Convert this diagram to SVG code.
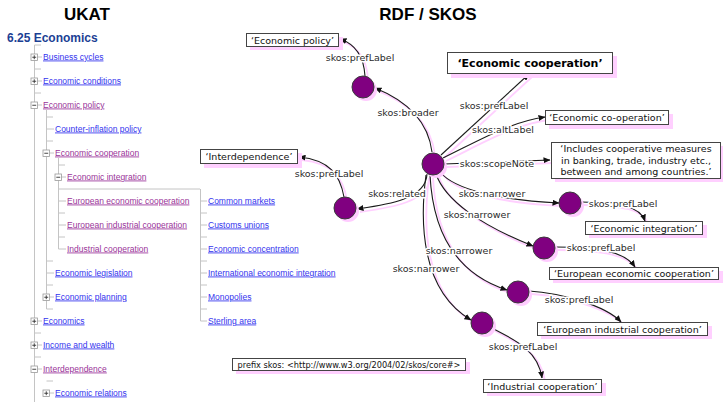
<svg xmlns="http://www.w3.org/2000/svg" width="723" height="402" viewBox="0 0 723 402">
<style>
.title{font-family:"Liberation Sans",Arial,sans-serif;font-weight:bold;font-size:17px;fill:#000}
.head{font-family:"Liberation Sans",Arial,sans-serif;font-weight:bold;font-size:12px;fill:#1c3f94}
.lk{font-family:"Liberation Sans",Arial,sans-serif;font-size:8.5px;text-decoration:underline}
.b{fill:#3333ee}
.v{fill:#993399}
.tl{stroke:#c4c4c4;stroke-width:1;fill:none}
.bx{fill:#fff;stroke:#999;stroke-width:0.8}
.sg{stroke:#333;stroke-width:0.9}
.node{fill:#800080;stroke:#3a3a3a;stroke-width:1}
.nsh{fill:#ffccff}
.edge{fill:none;stroke:#1a1a1a;stroke-width:1.1}
.esh{fill:none;stroke:#ffd0ff;stroke-width:1.8}
.el{font-family:"DejaVu Sans",Verdana,sans-serif;font-size:9.5px;fill:#2a2a2a;stroke:#fff;stroke-width:3;paint-order:stroke;stroke-linejoin:round}
.lit{fill:#fff;stroke:#444;stroke-width:1}
.lsh{fill:#ffd0ff}
.lt{font-family:"DejaVu Sans",Verdana,sans-serif;font-size:9.5px;fill:#111}
.ltb{font-family:"DejaVu Sans",Verdana,sans-serif;font-size:11px;font-weight:bold;fill:#000}
.pt{font-family:"DejaVu Sans",Verdana,sans-serif;font-size:8.2px;fill:#111}
</style>
<defs>
<marker id="ar" markerWidth="7" markerHeight="6" refX="6.5" refY="3" orient="auto" markerUnits="userSpaceOnUse">
<path d="M0,0 L7,3 L0,6 z" fill="#111"/>
</marker>
</defs>
<rect width="723" height="402" fill="#fff"/>

<text class="title" x="87" y="20" text-anchor="middle">UKAT</text>
<text class="title" x="428" y="20" text-anchor="middle">RDF / SKOS</text>
<text class="head" x="7" y="42">6.25 Economics</text>

<g id="tree-lines">
<path class="tl" d="M34.5,45 V402 M46.5,110 V309 M58.5,158 V249 M200.5,189 V321 M58.5,189 H200"/>
<path class="tl" d="M34.5,45 H41 M34.5,69 H41 M34.5,93 H41 M34.5,333 H41 M34.5,357 H41 M46.5,381 H53
M37.5,57 H42 M37.5,81 H42 M37.5,105 H42 M37.5,321 H42 M37.5,345 H42 M37.5,369 H42
M46.5,117 H53 M46.5,141 H53 M46.5,261 H53 M46.5,285 H53 M46.5,309 H53
M46.5,129 H54 M46.5,273 H54 M49.5,153 H54 M49.5,297 H54 M49.5,393 H54
M58.5,165 H65 M58.5,213 H65 M58.5,237 H65 M61.5,177 H66 M58.5,201 H66 M58.5,225 H66 M58.5,249 H66
M200.5,213 H207 M200.5,237 H207 M200.5,261 H207 M200.5,285 H207 M200.5,309 H207
M200.5,201 H207 M200.5,225 H207 M200.5,249 H207 M200.5,273 H207 M200.5,297 H207 M200.5,321 H207"/>
</g>

<g id="tree-boxes">
<rect class="bx" x="31" y="54" width="6.5" height="6.5"/><path class="sg" d="M32.3,57.25 H36.2 M34.25,55.3 V59.2"/>
<rect class="bx" x="31" y="78" width="6.5" height="6.5"/><path class="sg" d="M32.3,81.25 H36.2 M34.25,79.3 V83.2"/>
<rect class="bx" x="31" y="102" width="6.5" height="6.5"/><path class="sg" d="M32.3,105.25 H36.2"/>
<rect class="bx" x="43" y="150" width="6.5" height="6.5"/><path class="sg" d="M44.3,153.25 H48.2"/>
<rect class="bx" x="55" y="174" width="6.5" height="6.5"/><path class="sg" d="M56.3,177.25 H60.2"/>
<rect class="bx" x="43" y="294" width="6.5" height="6.5"/><path class="sg" d="M44.3,297.25 H48.2 M46.25,295.3 V299.2"/>
<rect class="bx" x="31" y="318" width="6.5" height="6.5"/><path class="sg" d="M32.3,321.25 H36.2 M34.25,319.3 V323.2"/>
<rect class="bx" x="31" y="342" width="6.5" height="6.5"/><path class="sg" d="M32.3,345.25 H36.2 M34.25,343.3 V347.2"/>
<rect class="bx" x="31" y="366" width="6.5" height="6.5"/><path class="sg" d="M32.3,369.25 H36.2"/>
<rect class="bx" x="43" y="390" width="6.5" height="6.5"/><path class="sg" d="M44.3,393.25 H48.2 M46.25,391.3 V395.2"/>
</g>

<g id="tree-items">
<text class="lk b" x="43" y="59.5">Business cycles</text>
<text class="lk b" x="43" y="83.5">Economic conditions</text>
<text class="lk v" x="43" y="107.5">Economic policy</text>
<text class="lk b" x="55" y="131.5">Counter-inflation policy</text>
<text class="lk v" x="55" y="155.5">Economic cooperation</text>
<text class="lk v" x="67" y="179.5">Economic integration</text>
<text class="lk v" x="67" y="203.5">European economic cooperation</text>
<text class="lk v" x="67" y="227.5">European industrial cooperation</text>
<text class="lk v" x="67" y="251.5">Industrial cooperation</text>
<text class="lk b" x="55" y="275.5">Economic legislation</text>
<text class="lk b" x="55" y="299.5">Economic planning</text>
<text class="lk b" x="43" y="323.5">Economics</text>
<text class="lk b" x="43" y="347.5">Income and wealth</text>
<text class="lk v" x="43" y="371.5">Interdependence</text>
<text class="lk b" x="55" y="395.5">Economic relations</text>
<text class="lk b" x="208" y="203.5">Common markets</text>
<text class="lk b" x="208" y="227.5">Customs unions</text>
<text class="lk b" x="208" y="251.5">Economic concentration</text>
<text class="lk b" x="208" y="275.5">International economic integration</text>
<text class="lk b" x="208" y="299.5">Monopolies</text>
<text class="lk b" x="208" y="323.5">Sterling area</text>
</g>

<g id="connectors">
<g transform="translate(3,3)">
<path class="esh" d="M365,76 C364,60 358,45 340,39"/>
<path class="esh" d="M432,152 C428,120 405,100 375,88"/>
<path class="esh" d="M441,155 L529,74"/>
<path class="esh" d="M443,158 C480,140 510,122 545,117"/>
<path class="esh" d="M444,164 L550,160"/>
<path class="esh" d="M427,174 C426,200 385,205 357,209"/>
<path class="esh" d="M344,197 C340,175 330,160 299,157"/>
<path class="esh" d="M440,172 C455,190 500,200 559,203"/>
<path class="esh" d="M436,174 C445,200 480,225 533,246"/>
<path class="esh" d="M430,175 C432,215 445,270 507,290"/>
<path class="esh" d="M426,175 C420,220 420,290 471,320"/>
<path class="esh" d="M581,202 C620,203 640,206 645,221"/>
<path class="esh" d="M555,247 C600,247 625,252 635,267"/>
<path class="esh" d="M529,291 C560,293 605,305 621,322"/>
<path class="esh" d="M492,328 C515,340 538,350 542,378"/>
</g>
<path class="edge" marker-end="url(#ar)" d="M365,76 C364,60 358,45 340,39"/>
<path class="edge" marker-end="url(#ar)" d="M432,152 C428,120 405,100 375,88"/>
<path class="edge" marker-end="url(#ar)" d="M441,155 L529,74"/>
<path class="edge" marker-end="url(#ar)" d="M443,158 C480,140 510,122 545,117"/>
<path class="edge" marker-end="url(#ar)" d="M444,164 L550,160"/>
<path class="edge" marker-end="url(#ar)" d="M427,174 C426,200 385,205 357,209"/>
<path class="edge" marker-end="url(#ar)" d="M344,197 C340,175 330,160 299,157"/>
<path class="edge" marker-end="url(#ar)" d="M440,172 C455,190 500,200 559,203"/>
<path class="edge" marker-end="url(#ar)" d="M436,174 C445,200 480,225 533,246"/>
<path class="edge" marker-end="url(#ar)" d="M430,175 C432,215 445,270 507,290"/>
<path class="edge" marker-end="url(#ar)" d="M426,175 C420,220 420,290 471,320"/>
<path class="edge" marker-end="url(#ar)" d="M581,202 C620,203 640,206 645,221"/>
<path class="edge" marker-end="url(#ar)" d="M555,247 C600,247 625,252 635,267"/>
<path class="edge" marker-end="url(#ar)" d="M529,291 C560,293 605,305 621,322"/>
<path class="edge" marker-end="url(#ar)" d="M492,328 C515,340 538,350 542,378"/>
<text class="el" x="360" y="61" text-anchor="middle">skos:prefLabel</text>
<text class="el" x="408" y="116" text-anchor="middle">skos:broader</text>
<text class="el" x="494" y="109" text-anchor="middle">skos:prefLabel</text>
<text class="el" x="503" y="133" text-anchor="middle">skos:altLabel</text>
<text class="el" x="497" y="167" text-anchor="middle">skos:scopeNote</text>
<text class="el" x="397" y="197" text-anchor="middle">skos:related</text>
<text class="el" x="329" y="177" text-anchor="middle">skos:prefLabel</text>
<text class="el" x="492" y="197" text-anchor="middle">skos:narrower</text>
<text class="el" x="477" y="218" text-anchor="middle">skos:narrower</text>
<text class="el" x="459" y="254" text-anchor="middle">skos:narrower</text>
<text class="el" x="426" y="272" text-anchor="middle">skos:narrower</text>
<text class="el" x="623" y="207" text-anchor="middle">skos:prefLabel</text>
<text class="el" x="601" y="251" text-anchor="middle">skos:prefLabel</text>
<text class="el" x="579" y="303" text-anchor="middle">skos:prefLabel</text>
<text class="el" x="523" y="350" text-anchor="middle">skos:prefLabel</text>
</g>

<g id="n-economic-policy"><circle class="nsh" cx="366" cy="90" r="11"/><circle class="node" cx="363" cy="87" r="11"/></g>
<g id="n-economic-cooperation"><circle class="nsh" cx="436" cy="167" r="11"/><circle class="node" cx="433" cy="164" r="11"/></g>
<g id="n-interdependence"><circle class="nsh" cx="348" cy="211" r="11"/><circle class="node" cx="345" cy="208" r="11"/></g>
<g id="n-economic-integration"><circle class="nsh" cx="573" cy="206" r="11"/><circle class="node" cx="570" cy="203" r="11"/></g>
<g id="n-european-economic-cooperation"><circle class="nsh" cx="547" cy="251" r="11"/><circle class="node" cx="544" cy="248" r="11"/></g>
<g id="n-european-industrial-cooperation"><circle class="nsh" cx="521" cy="295" r="11"/><circle class="node" cx="518" cy="292" r="11"/></g>
<g id="n-industrial-cooperation"><circle class="nsh" cx="485" cy="326" r="11"/><circle class="node" cx="482" cy="323" r="11"/></g>

<g id="l-economic-policy"><rect class="lsh" x="250" y="37" width="93" height="13"/><rect class="lit" x="246.5" y="33.5" width="92" height="13"/><text class="lt" x="292.5" y="43.5" text-anchor="middle">‘Economic policy’</text></g>
<g id="l-economic-cooperation"><rect class="lsh" x="451" y="56" width="166" height="22"/><rect class="lit" x="447.5" y="52.5" width="165" height="21"/><text class="ltb" x="530" y="67" text-anchor="middle">‘Economic cooperation’</text></g>
<g id="l-economic-co-operation"><rect class="lsh" x="549" y="114" width="124" height="15"/><rect class="lit" x="545.5" y="110.5" width="123" height="14"/><text class="lt" x="607" y="121" text-anchor="middle">‘Economic co-operation’</text></g>
<g id="l-scope-note"><rect class="lsh" x="555" y="146" width="168" height="36"/><rect class="lit" x="551.5" y="142.5" width="169" height="36"/>
<text class="lt" x="636" y="152" text-anchor="middle">‘Includes cooperative measures</text>
<text class="lt" x="636" y="163.5" text-anchor="middle">in banking, trade, industry etc.,</text>
<text class="lt" x="636" y="175" text-anchor="middle">between and among countries.’</text></g>
<g id="l-interdependence"><rect class="lsh" x="204" y="153" width="98" height="15"/><rect class="lit" x="200.5" y="149.5" width="97" height="14"/><text class="lt" x="249" y="160" text-anchor="middle">‘Interdependence’</text></g>
<g id="l-economic-integration"><rect class="lsh" x="589" y="225" width="118" height="13"/><rect class="lit" x="585.5" y="221.5" width="117" height="13"/><text class="lt" x="644" y="231.5" text-anchor="middle">‘Economic integration’</text></g>
<g id="l-european-economic-cooperation"><rect class="lsh" x="553" y="271" width="170" height="12"/><rect class="lit" x="549.5" y="267.5" width="169" height="12"/><text class="lt" x="634" y="277" text-anchor="middle">‘European economic cooperation’</text></g>
<g id="l-european-industrial-cooperation"><rect class="lsh" x="541" y="326" width="171" height="13"/><rect class="lit" x="537.5" y="322.5" width="170" height="13"/><text class="lt" x="622.5" y="332.5" text-anchor="middle">‘European industrial cooperation’</text></g>
<g id="l-industrial-cooperation"><rect class="lsh" x="487" y="383" width="119" height="13"/><rect class="lit" x="483.5" y="379.5" width="118" height="13"/><text class="lt" x="542.5" y="389.5" text-anchor="middle">‘Industrial cooperation’</text></g>
<g id="l-prefix"><rect class="lsh" x="236" y="362" width="234" height="12"/><rect class="lit" x="232.5" y="358.5" width="233" height="12"/><text class="pt" x="349" y="367.5" text-anchor="middle">prefix skos: &lt;http://www.w3.org/2004/02/skos/core#&gt;</text></g>
</svg>
